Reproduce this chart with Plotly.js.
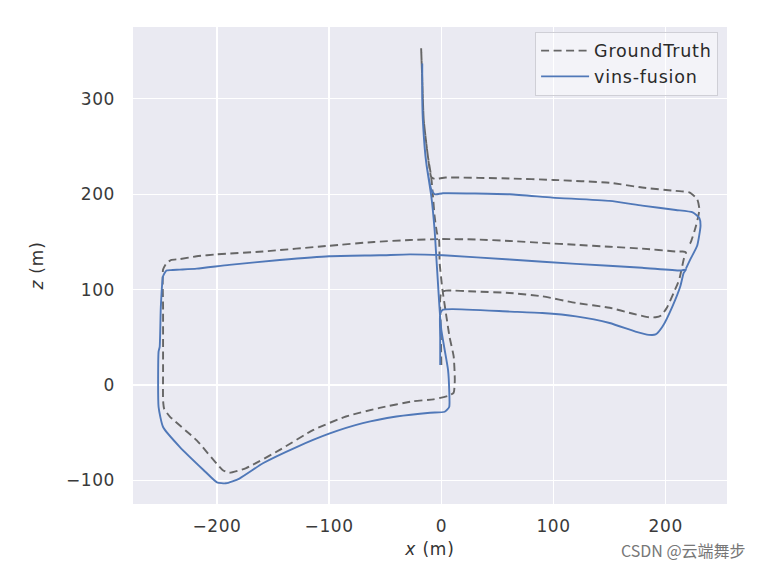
<!DOCTYPE html>
<html>
<head>
<meta charset="utf-8">
<script src="https://cdn.plot.ly/plotly-3.0.1.min.js"></script>
<style>
html,body{margin:0;padding:0;background:#fff;}
#chart{width:766px;height:568px;}
text.legendtext{letter-spacing:0.8px;}
.xtick text,.ytick text{letter-spacing:0.6px;}
text.xtitle,text.ytitle{letter-spacing:0.8px;}
</style>
</head>
<body>
<div id="chart"></div>
<script>
// GroundTruth trajectory (x, z in metres)
const gtX = [0, -0.5, -1, 0, 4, 30, 61, 90, 120, 150, 170, 185, 191, 196, 201, 207, 212, 216, 218, 215, 209, 179, 150, 120, 90, 61, 31, 0, -28, -60, -100, -159, -200, -218, -233, -241, -245, -248, -248, -248, -248, -247, -242, -218, -195, -189, -174, -144, -114, -85, -55, -25, -7, 7, 11, 12, 11, 7.4, 4.5, 1, -1.5, -2, -4, -6, -7.4, -9, -12, -15.7, -17, -18, -17, -15.7, -12, -9, -6, 4, 61, 100, 150, 179, 209, 221, 228, 230, 227, 222, 219];
const gtY = [21, 60, 90, 97, 99, 98, 96.5, 93, 86, 81, 75, 71, 71, 73, 81, 96.5, 110.5, 131.6, 139, 140, 140, 143, 145, 147, 149, 151, 152.6, 153, 152, 150, 146, 140, 137, 135, 132, 131, 127.6, 121, 82, 12, -16, -25, -33, -58, -89, -92, -87, -68, -47, -33, -24, -17, -15, -11, -8, 5, 30, 50, 72, 100, 128, 152, 160, 177, 197, 218, 240, 278, 320, 353, 320, 278, 240, 218, 216, 217.5, 216.5, 215, 212, 207, 203.5, 202, 195, 184, 167, 149, 145];

// vins-fusion estimated trajectory
const vinsX = [-1, -1, -1, 1.5, 10, 61, 90, 120, 150, 173, 185, 191, 197, 206, 213, 216, 218, 213, 179, 120, 61, 1.5, -28, -55, -100, -144, -189, -218, -233, -241, -245, -248, -250, -251, -252, -252, -248, -233, -212, -200, -192, -180, -159, -129, -100, -70, -40, -10, 3, 7, 7, 6, 3, 0, -1.5, -3, -4.5, -6, -8.9, -13.4, -16.3, -17, -17, -17, -16.3, -13.4, -9, -6, 1.5, 61, 99, 150, 179, 209, 224, 230, 231, 228, 222, 218];
const vinsY = [21, 50, 75, 79, 79.6, 77, 75.5, 72, 65, 56, 52.6, 53, 61, 82.5, 103.5, 117.5, 121, 120, 123, 127, 131.6, 136, 137, 136, 135, 131, 126, 122, 121, 120.5, 120, 114, 82, 40, 35, -23, -44, -65, -89, -102, -103, -98, -82, -65, -51, -40, -33, -29, -28, -23, -5, 15.7, 36.7, 57.7, 78.7, 106.6, 134.6, 162.6, 197.5, 232.5, 274, 300, 337, 300, 274, 232.5, 205, 200, 201, 200, 196.5, 193, 188, 183.5, 181, 175, 167, 146, 132, 122];

const xTicks = [-200, -100, 0, 100, 200];
const yTicks = [-100, 0, 100, 200, 300];

const traces = [
  {
    x: gtX, y: gtY, name: 'GroundTruth', type: 'scatter', mode: 'lines',
    line: {color: '#666666', width: 1.9, dash: '8px,4.5px', shape: 'spline', smoothing: 0.5}
  },
  {
    x: vinsX, y: vinsY, name: 'vins-fusion', type: 'scatter', mode: 'lines',
    line: {color: '#5078B8', width: 1.9, shape: 'spline', smoothing: 0.5}
  }
];

const tickFont = {family: 'DejaVu Sans', size: 17, color: '#3a3a3a'};
const titleFont = {family: 'DejaVu Sans', size: 17, color: '#333333'};
const layout = {
  width: 766, height: 568,
  margin: {l: 133, r: 39, t: 27, b: 64},
  paper_bgcolor: '#ffffff',
  plot_bgcolor: '#EAEAF2',
  showlegend: true,
  xaxis: {
    range: [-274.8, 254.6], tickvals: xTicks, ticks: '',
    showgrid: true, gridcolor: '#ffffff', gridwidth: 1.3,
    zeroline: false, showline: false, tickfont: tickFont,
    ticklabelstandoff: 10,
    title: {text: '<i>x</i> (m)', font: titleFont, standoff: 8}
  },
  yaxis: {
    range: [-124.7, 375.3], tickvals: yTicks, ticks: '',
    showgrid: true, gridcolor: '#ffffff', gridwidth: 1.3,
    zeroline: false, showline: false, tickfont: tickFont,
    ticklabelstandoff: 17,
    title: {text: '<i>z</i> (m)', font: titleFont, standoff: 17}
  },
  legend: {
    x: 0.985, y: 0.99, xanchor: 'right', yanchor: 'top',
    bgcolor: 'rgba(255,255,255,0.45)', bordercolor: '#cfcfd6', borderwidth: 1,
    itemwidth: 48, tracegroupgap: 0,
    font: {family: 'DejaVu Sans', size: 17.5, color: '#2a2a2a'}
  },
  annotations: [{
    text: 'CSDN @云端舞步', xref: 'paper', yref: 'paper', x: 0.926, y: -0.096,
    xanchor: 'center', yanchor: 'middle', showarrow: false,
    font: {family: 'Noto Sans CJK SC', size: 16, color: '#777777'}
  }]
};

Plotly.newPlot('chart', traces, layout, {displayModeBar: false, staticPlot: true});
</script>
</body>
</html>
